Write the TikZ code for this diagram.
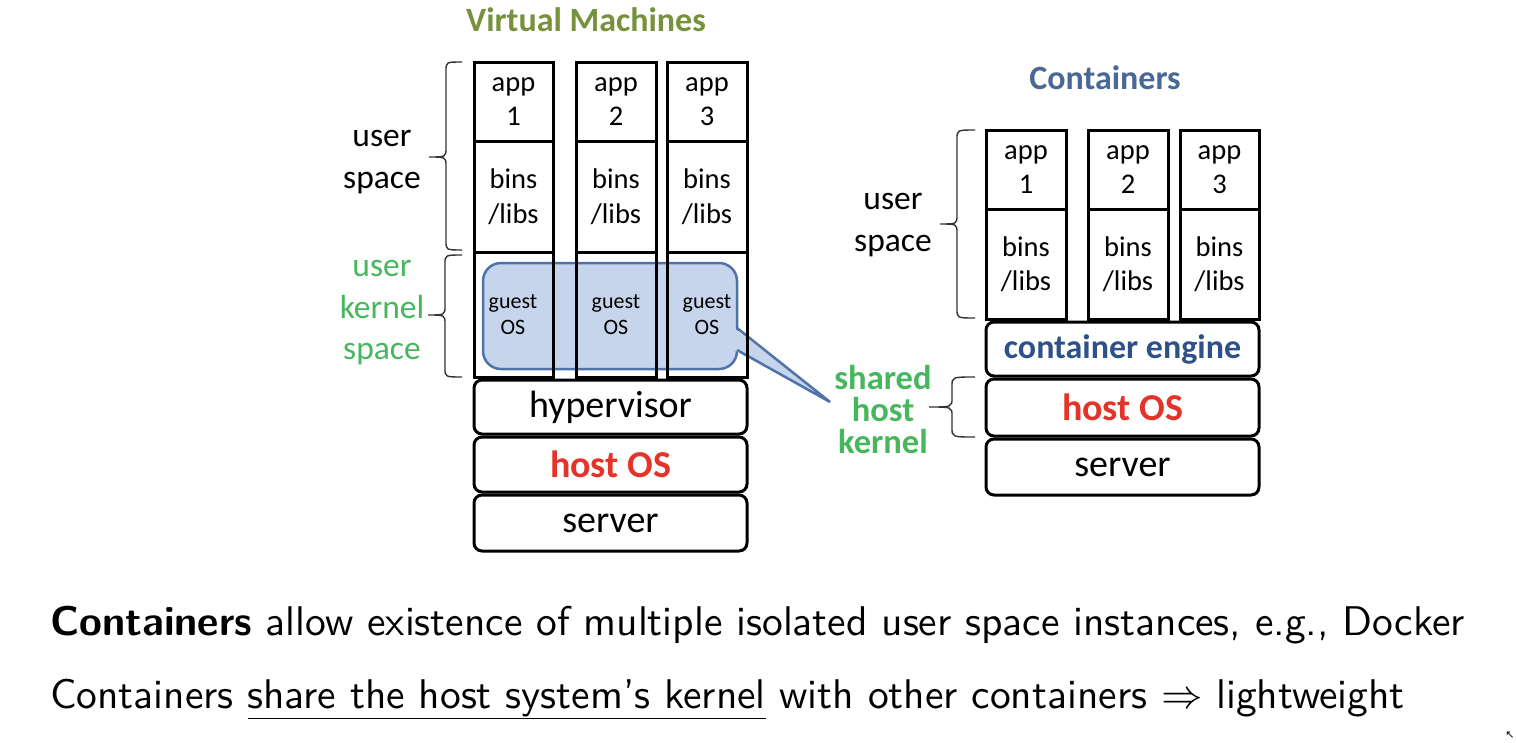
\documentclass[tikz,border=0pt]{standalone}
\usepackage{fontspec}
\newfontfamily\carlitofont{Carlito}
\newfontfamily\dejavufont{DejaVu Sans}
\newfontfamily\lmmathfont{Latin Modern Math}
\newfontfamily\bodyfont{lmsans10-regular.otf}[BoldFont=lmsans10-bold.otf, Ligatures=TeX]
\definecolor{vmgreen}{HTML}{76923C}
\definecolor{ctblue}{HTML}{4A6896}
\definecolor{lblgreen}{HTML}{47B75E}
\definecolor{hostred}{HTML}{E5332A}
\definecolor{engblue}{HTML}{2E5189}
\definecolor{calfill}{HTML}{C6D4EC}
\definecolor{caldraw}{HTML}{4F72A8}
\tikzset{
  cell/.style={draw=black, line width=3pt, inner sep=0pt, align=center, font=\carlitofont\fontsize{28.5}{34.5}\selectfont},
  layer/.style={draw=black, line width=3pt, rounded corners=8pt, inner sep=0pt, align=center, font=\carlitofont\fontsize{38}{40}\selectfont},
  guest/.style={inner sep=0pt, align=center, font=\carlitofont\fontsize{22}{26}\selectfont},
  lbl/.style={inner sep=0pt, align=center, font=\carlitofont\fontsize{33.5}{41.5}\selectfont},
  glbl/.style={lbl, text=lblgreen},
  gblbl/.style={inner sep=0pt, align=center, text=lblgreen, font=\carlitofont\bfseries\fontsize{34.5}{32}\selectfont},
  title/.style={inner sep=0pt, font=\carlitofont\bfseries\fontsize{34}{36}\selectfont},
  brc/.style={draw=black!80, line width=1.4pt},
  body/.style={inner sep=0pt, anchor=base west, font=\bodyfont\fontsize{41.5}{44}\selectfont}
}
\newcommand{\cellat}[6]{% name, x1, y1, x2, y2, text
  \node[cell, minimum width={#4-#2}, minimum height={#5-#3}] (#1) at ({(#2+#4)/2},{(#3+#5)/2}) {#6};}
\newcommand{\layerat}[6]{%
  \node[layer, minimum width={#4-#2}, minimum height={#5-#3}] (#1) at ({(#2+#4)/2},{(#3+#5)/2}) {#6};}
% brace: name, x right end, x vertical, x tip, y top, y tip, y bottom
\newcommand{\mybrace}[7]{%
  \coordinate (#1) at (#4,#6);
  \draw[brc] (#2,#5) .. controls ({#3},#5) .. ({#3},{#5+9}) -- ({#3},{#6-9})
    .. controls ({#3},#6) .. (#1) .. controls ({#3},#6) .. ({#3},{#6+9})
    -- ({#3},{#7-9}) .. controls ({#3},#7) .. (#2,#7);}
\begin{document}
\begin{tikzpicture}[x=1pt,y=-1pt]
\useasboundingbox[fill=white] (0,0) rectangle (1516,742);

% ---------- Virtual machines ----------
\node[title, text=vmgreen] (vmtitle) at (586,20) {Virtual Machines};

% callout
\node[draw=caldraw, fill=calfill, line width=2.5pt, rounded corners=18pt, minimum width=254pt, minimum height=106pt, inner sep=0pt] (callout) at (610,316) {};
\coordinate (tip) at (830,402);
\fill[calfill] (734,328) -- (tip) -- (734,350) -- cycle;
\draw[caldraw, line width=2.5pt, line join=miter] (737,328) -- (tip) -- (737,350);

\cellat{va1}{474}{62}{553}{141}{app\\1}
\cellat{va2}{576}{62}{656}{141}{app\\2}
\cellat{va3}{667}{62}{747}{141}{app\\3}
\cellat{vb1}{474}{141}{553}{252}{bins\\/libs}
\cellat{vb2}{576}{141}{656}{252}{bins\\/libs}
\cellat{vb3}{667}{141}{747}{252}{bins\\/libs}
\cellat{vg1}{474}{252}{553}{377}{}
\cellat{vg2}{576}{252}{656}{377}{}
\cellat{vg3}{667}{252}{747}{377}{}
\node[guest] (g1) at (513,315) {guest\\OS};
\node[guest] (g2) at (616,315) {guest\\OS};
\node[guest] (g3) at (707,315) {guest\\OS};

\layerat{hyp}{474}{380}{747}{434}{hypervisor}
\layerat{vhost}{474}{437}{747}{492}{\textcolor{hostred}{\bfseries host OS}}
\layerat{vserver}{474}{495}{747}{551}{server}

% braces VM
\mybrace{b1}{462}{446}{429}{62}{157}{250}
\node[lbl] (us1) at (382,162) {user\\space};
\mybrace{b2}{462}{445}{428}{255}{315}{377}
\node[glbl] (uks) at (382,313) {user\\kernel\\space};

% ---------- Containers ----------
\node[title, text=ctblue] (cttitle) at (1105,78) {Containers};

\cellat{ca1}{986}{130}{1066}{209}{app\\1}
\cellat{ca2}{1088}{130}{1168}{209}{app\\2}
\cellat{ca3}{1180}{130}{1259}{209}{app\\3}
\cellat{cb1}{986}{209}{1066}{319}{bins\\/libs}
\cellat{cb2}{1088}{209}{1168}{319}{bins\\/libs}
\cellat{cb3}{1180}{209}{1259}{319}{bins\\/libs}

\layerat{eng}{986}{322}{1259}{376}{\textcolor{engblue}{\bfseries\fontsize{34}{36}\selectfont container engine}}
\layerat{chost}{986}{379}{1259}{436}{\textcolor{hostred}{\bfseries host OS}}
\layerat{cserver}{986}{439}{1259}{495}{server}

\mybrace{b3}{975}{957}{940}{130}{224}{318}
\node[lbl] (us2) at (893,225) {user\\space};
\mybrace{b4}{975}{952}{929}{377}{407}{437}
\node[gblbl] (shk) at (883,410) {shared\\host\\kernel};

% ---------- body text ----------
\node[body] (line1) at (50,635) {\textbf{Containers} allow existence of multiple isolated user space instances, e.g., Docker};
\node[body] (line2) at (50,708) {Containers \underline{share the host system’s kernel} with other containers {\lmmathfont ⇒} lightweight};

% nav icon
\node[inner sep=0pt, font=\dejavufont\fontsize{11}{11}\selectfont] (nav) at (1510,735) {↖};
\end{tikzpicture}
\end{document}
